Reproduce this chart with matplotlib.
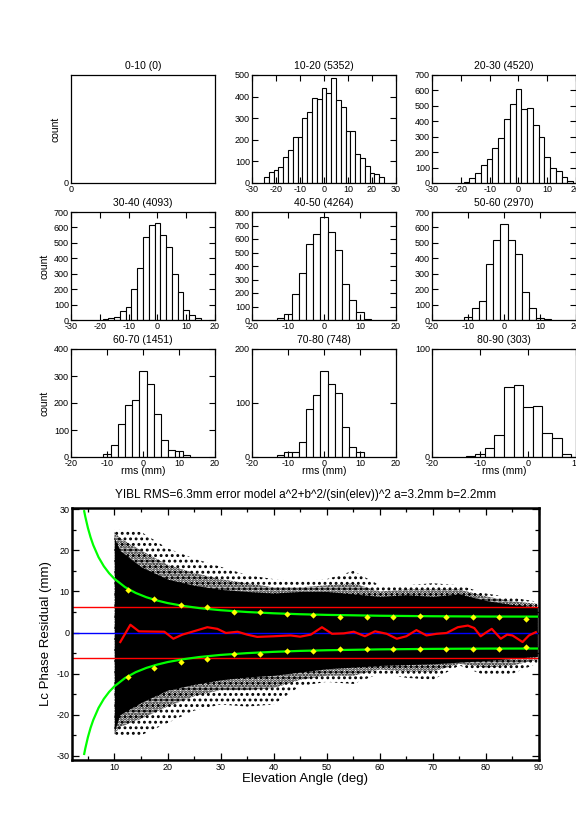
import matplotlib
matplotlib.use("Agg")
import matplotlib.pyplot as plt
from matplotlib.ticker import MultipleLocator

plt.rcParams["font.family"] = ["Liberation Sans", "DejaVu Sans"]
plt.rcParams["axes.unicode_minus"] = False
plt.rcParams["hatch.linewidth"] = 1.3

# ---- histogram data (bin centres, width 2 mm) ----
titles = ["0-10 (0)", "10-20 (5352)", "20-30 (4520)",
          "30-40 (4093)", "40-50 (4264)", "50-60 (2970)",
          "60-70 (1451)", "70-80 (748)", "80-90 (303)"]

centers_10_20 = list(range(-24, 25, 2))
counts_10_20 = [30, 50, 62, 75, 120, 155, 215, 215, 300, 330, 395, 390, 442,
                418, 484, 386, 353, 242, 242, 136, 118, 79, 48, 40, 26]

centers_20_30 = list(range(-18, 19, 2))
counts_20_30 = [6, 34, 68, 114, 153, 229, 294, 418, 513, 610, 480, 488, 373,
                300, 168, 100, 80, 40, 15]

centers_30_40 = list(range(-18, 15, 2))
counts_30_40 = [8, 15, 22, 61, 87, 202, 336, 536, 614, 627, 549, 472, 299,
                180, 67, 32, 10]

centers_40_50 = list(range(-12, 13, 2))
counts_40_50 = [15, 45, 192, 347, 566, 640, 766, 655, 522, 265, 148, 58, 8]

centers_50_60 = list(range(-10, 13, 2))
counts_50_60 = [20, 75, 120, 365, 520, 625, 520, 425, 183, 80, 13, 6]

centers_60_70 = list(range(-10, 13, 2))
counts_60_70 = [12, 45, 122, 193, 212, 320, 272, 160, 64, 27, 23, 8]

centers_70_80 = list(range(-12, 11, 2))
counts_70_80 = [4, 9, 9, 28, 89, 115, 160, 135, 118, 56, 19, 9]

centers_80_90 = list(range(-12, 9, 2))
counts_80_90 = [1, 3, 8, 20, 65, 67, 46, 47, 22, 18, 3]

hist_xlims = [(0, 1), (-30, 30), (-30, 20), (-30, 20), (-20, 20), (-20, 20),
              (-20, 20), (-20, 20), (-20, 10)]
hist_ymax = [1, 500, 700, 700, 800, 700, 400, 200, 100]
hist_ystep = [1, 100, 100, 100, 100, 100, 100, 100, 100]

# ---- residual vs elevation ----
cloud_elev = [10, 11, 15, 20, 25, 30, 35, 40, 45, 50, 55, 60, 65, 70, 75, 80, 85, 89.7]
core_top = [23, 20, 16, 13, 11.5, 10.5, 10, 9.6, 10, 10, 9.4, 8.8, 9.2, 8.8, 9.4, 7.8, 6.8, 6.2]
core_bot = [-24, -20, -17, -14, -12.6, -11.5, -10.8, -10.4, -9.6, -8.8, -8.4, -8, -7.8,
            -7.6, -7.2, -6.8, -6.3, -5.8]
mid_top = [24.5, 23, 20, 16.5, 14.5, 13, 12, 11, 11, 11.5, 12, 10, 10.5, 10.5, 10.5, 8.8, 7.6, 7]
mid_bot = [-24.8, -23, -21, -18, -15.5, -14, -14, -13.5, -11.5, -10.5, -10.5, -9, -9.5,
           -9.5, -7.6, -8.5, -8, -6.6]
outer_top = [25, 25, 24.5, 20.5, 18, 16, 14, 13, 12.5, 13, 15, 11.5, 11.5, 12, 11.5, 9.5, 8.5, 7.5]
outer_bot = [-25, -25, -25, -22, -19, -17.5, -18, -17.5, -13, -12, -12.5, -10, -11, -11.5,
             -8, -10.5, -10, -7.5]

mean_elev = [11.1, 13.0, 14.6, 19.4, 21.1, 22.8, 24.4, 27.5, 29.4, 31.0, 33.2, 35.0, 36.9,
             40.0, 43.2, 45.0, 47.0, 49.1, 51.0, 53.2, 55.1, 57.2, 59.1, 61.3, 63.2, 65.0,
             66.9, 68.8, 70.7, 72.6, 74.7, 76.6, 77.8, 79.0, 80.0, 81.1, 82.8, 84.0, 85.0,
             86.9, 88.1, 89.4]
mean_resid = [-2.3, 1.9, 0.3, 0.2, -1.5, -0.5, 0.1, 1.3, 0.9, -0.1, 0.2, -0.5, -1.05,
              -0.9, -0.7, -1.0, -0.5, 1.3, -0.3, -0.2, 0.2, -0.9, 0.3, -0.3, -1.5, -0.9,
              0.6, -0.7, -0.3, -0.1, 1.3, 1.7, 1.1, -0.9, 0.0, 0.9, -1.5, -0.5, -0.7,
              -2.3, -0.7, 0.1]

rms_elev = [12.5, 17.5, 22.5, 27.5, 32.5, 37.5, 42.5, 47.5, 52.5, 57.5, 62.5, 67.5,
            72.5, 77.5, 82.5, 87.5]
rms_upper = [10.4, 8.25, 6.8, 6.1, 5.1, 5.0, 4.45, 4.2, 3.7, 3.7, 3.7, 4.0, 3.8, 3.7, 3.9, 3.3]
rms_lower = [-10.7, -8.6, -7.1, -6.4, -5.3, -5.1, -4.6, -4.4, -3.9, -3.9, -3.9, -4.1, -4.0,
             -3.9, -4.1, -3.6]

model_elev = [4.3, 4.5, 5, 5.5, 6, 7, 8, 9, 10, 12, 14, 16, 18, 20, 23, 26, 30, 35, 40,
              45, 50, 60, 70, 80, 90]
model_sigma = [29.52, 28.22, 25.44, 23.17, 21.29, 18.33, 16.13, 14.42, 13.07, 11.05, 9.64,
               8.60, 7.81, 7.18, 6.48, 5.95, 5.44, 5.00, 4.69, 4.46, 4.30, 4.09, 3.97,
               3.90, 3.88]
rms_total = 6.3

hist_data = [([], []), (centers_10_20, counts_10_20), (centers_20_30, counts_20_30),
             (centers_30_40, counts_30_40), (centers_40_50, counts_40_50),
             (centers_50_60, counts_50_60), (centers_60_70, counts_60_70),
             (centers_70_80, counts_70_80), (centers_80_90, counts_80_90)]

fig = plt.figure(figsize=(5.76, 8.32), dpi=100)
W, H = 576.0, 832.0
col_left = [71, 252, 432]
row_top = [75, 212, 349]
pw, ph = 144, 108

for i in range(9):
    r, c = divmod(i, 3)
    ax = fig.add_axes([col_left[c] / W, 1 - (row_top[r] + ph) / H, pw / W, ph / H])
    centers, counts = hist_data[i]
    if centers:
        ax.bar(centers, counts, width=2, facecolor="white", edgecolor="black", linewidth=0.8)
    ax.set_xlim(*hist_xlims[i])
    ax.set_ylim(0, hist_ymax[i])
    if i == 0:
        ax.set_xticks([0])
        ax.set_yticks([0])
        ax.tick_params(length=0)
    else:
        ax.xaxis.set_major_locator(MultipleLocator(10))
        ax.yaxis.set_major_locator(MultipleLocator(hist_ystep[i]))
        ax.tick_params(direction="in", top=True, right=True, length=4, width=0.8)
    ax.tick_params(labelsize=6.5, pad=1.5)
    for s in ax.spines.values():
        s.set_linewidth(0.9)
    ax.set_title(titles[i], fontsize=7.5, pad=4)
    if c == 0:
        ax.set_ylabel("count", fontsize=7.5)
        ax.yaxis.set_label_coords(-0.07 if i == 0 else -0.15, 0.5)
    if r == 2:
        ax.set_xlabel("rms (mm)", fontsize=7.5)
        ax.xaxis.set_label_coords(0.5, -0.085)

# main residual panel
ax = fig.add_axes([72 / W, 1 - 760 / H, 467 / W, 252 / H])
ax.fill_between(cloud_elev, outer_bot, outer_top, facecolor="none", edgecolor="black",
                hatch="...", linewidth=0)
ax.fill_between(cloud_elev, mid_bot, mid_top, facecolor="none", edgecolor="black",
                hatch="......", linewidth=0)
ax.fill_between(cloud_elev, core_bot, core_top, color="black", linewidth=0)
ax.axhline(rms_total, color="#ff0000", linewidth=1)
ax.axhline(-rms_total, color="#ff0000", linewidth=1)
ax.axhline(0, color="#0000ff", linewidth=1)
ax.plot(model_elev, model_sigma, color="#00ff00", linewidth=1.6)
ax.plot(model_elev, [-v for v in model_sigma], color="#00ff00", linewidth=1.6)
ax.plot(mean_elev, mean_resid, color="#ff0000", linewidth=1.6)
ax.plot(rms_elev, rms_upper, "D", color="#ffff00", markersize=3.2, markeredgewidth=0)
ax.plot(rms_elev, rms_lower, "D", color="#ffff00", markersize=3.2, markeredgewidth=0)

ax.set_xlim(2, 90)
ax.set_ylim(-31, 30.3)
ax.set_xticks(range(10, 91, 10))
ax.set_yticks(range(-30, 31, 10))
ax.xaxis.set_minor_locator(MultipleLocator(5))
ax.yaxis.set_minor_locator(MultipleLocator(5))
ax.tick_params(which="both", direction="in", top=True, right=True, labelsize=6.5, pad=2)
ax.tick_params(which="major", length=5, width=0.9)
ax.tick_params(which="minor", length=3, width=0.9)
for s in ax.spines.values():
    s.set_linewidth(1.8)
ax.set_title("YIBL RMS=6.3mm error model a^2+b^2/(sin(elev))^2 a=3.2mm b=2.2mm",
             fontsize=8.5, pad=7)
ax.set_xlabel("Elevation Angle (deg)", fontsize=9.5, labelpad=1)
ax.set_ylabel("Lc Phase Residual (mm)", fontsize=9.5, labelpad=3)

fig.savefig("out.png", dpi=100)
